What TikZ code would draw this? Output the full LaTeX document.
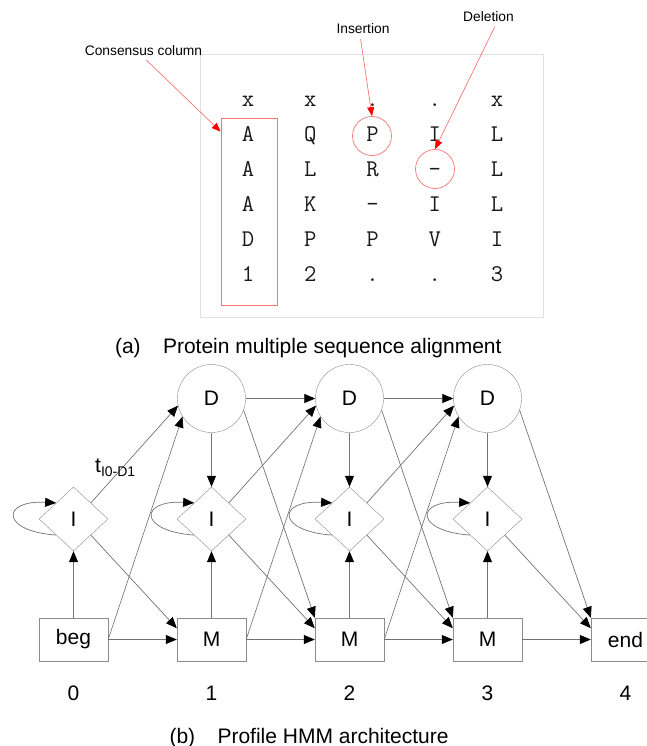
\documentclass[tikz,border=0pt]{standalone}
\usepackage{fontspec}
\setmainfont{Liberation Sans}
\usetikzlibrary{shapes.geometric,arrows.meta}

\tikzset{
  seq/.style={font=\ttfamily\fontsize{24}{24}\selectfont, text=black!90, inner sep=0pt, anchor=base},
  note/.style={font=\fontsize{13.8}{14}\selectfont, inner sep=1pt},
  redline/.style={draw=red!55, line width=0.7pt},
  redarrow/.style={redline, -{Triangle[length=9pt,width=7pt,color=red]}},
  big/.style={font=\fontsize{21}{21}\selectfont},
  dstate/.style={big, circle, draw=black!45, minimum size=68pt, inner sep=0pt},
  istate/.style={big, diamond, draw=black!45, minimum width=69pt, minimum height=64pt, inner sep=0pt},
  mstate/.style={big, rectangle, draw=black!45, minimum width=69pt, minimum height=43pt, inner sep=0pt},
  trans/.style={draw=black!55, line width=0.7pt, -{Triangle[length=11pt,width=9pt,color=black]}}
}

\begin{document}
\begin{tikzpicture}[x=1pt,y=-1pt]
	\useasboundingbox (0,0) rectangle (647,746);

	% alignment
	\node[draw=black!12, minimum width=343pt, minimum height=263pt] (msa) at (371.5,185.5) {};
	\foreach \row [count=\r] in {{x,x,.,.,x},{A,Q,P,I,L},{A,L,R,-,L},{A,K,-,I,L},{D,P,P,V,I},{1,2,.,.,3}}
		\foreach \ch [count=\c] in \row
			\node[seq] (s\r\c) at ({248+62.25*(\c-1)},{106.5+34.9*(\r-1)}) {\ch};

	\node[redline, minimum width=56pt, minimum height=187pt] (cons) at (249,211.5) {};
	\node[redline, circle, minimum size=39pt] (insc) at (372,136) {};
	\node[redline, circle, minimum size=39pt] (delc) at (435,169) {};

	\node[note] (conslab) at (143.5,51) {Consensus column};
	\node[note] (inslab) at (363,29) {Insertion};
	\node[note] (dellab) at (488.5,17) {Deletion};
	\draw[redarrow, shorten <=4pt] (conslab.south) -- ([yshift=-14pt]cons.north west);
	\draw[redarrow, shorten <=4pt] ([xshift=-3pt]inslab.south) -- (insc.north);
	\draw[redarrow, shorten <=4pt] ([xshift=8pt]dellab.south) -- (delc.north);

	\node[big, anchor=base west] (capa) at (111.5,353) {\makebox[48pt][l]{(a)}Protein multiple sequence alignment};

	% profile HMM
	\node[dstate] (D1) at (211.5,398.5) {D};
	\node[dstate] (D2) at (349.5,398.5) {D};
	\node[dstate] (D3) at (487.5,398.5) {D};

	\node[istate] (I0) at (73.5,519) {I};
	\node[istate] (I1) at (211.5,519) {I};
	\node[istate] (I2) at (349.5,519) {I};
	\node[istate] (I3) at (487.5,519) {I};

	\node[mstate] (beg) at (73.5,639.5) {beg};
	\node[mstate] (M1) at (211.5,639.5) {M};
	\node[mstate] (M2) at (349.5,639.5) {M};
	\node[mstate] (M3) at (487.5,639.5) {M};
	\node[mstate] (end) at (625.5,639.5) {end};

	\node[big, anchor=base] (n0) at (73.5,700) {0};
	\node[big, anchor=base] (n1) at (211.5,700) {1};
	\node[big, anchor=base] (n2) at (349.5,700) {2};
	\node[big, anchor=base] (n3) at (487.5,700) {3};
	\node[big, anchor=base] (n4) at (625.5,700) {4};

	\node[big, anchor=base west] (capb) at (166,743) {\makebox[48pt][l]{(b)}Profile HMM architecture};

	% delete states
	\draw[trans] (D1) -- (D2);
	\draw[trans] (D2) -- (D3);
	\draw[trans] (D1) -- (I1);
	\draw[trans] (D2) -- (I2);
	\draw[trans] (D3) -- (I3);
	\draw[trans] (D1.340) -- (M2.north west);
	\draw[trans] (D2.340) -- (M3.north west);
	\draw[trans] (D3.340) -- (end.north west);

	% insert states
	\draw[trans] (I0.south west) .. controls +(-56,-4) and +(-55,-3) .. (I0.north west);
	\draw[trans] (I1.south west) .. controls +(-56,-4) and +(-55,-3) .. (I1.north west);
	\draw[trans] (I2.south west) .. controls +(-56,-4) and +(-55,-3) .. (I2.north west);
	\draw[trans] (I3.south west) .. controls +(-56,-4) and +(-55,-3) .. (I3.north west);
	\draw[trans] (I0.north east) -- (D1.192);
	\draw[trans] (I1.north east) -- (D2.192);
	\draw[trans] (I2.north east) -- (D3.192);
	\draw[trans] (I0.south east) -- (M1.162);
	\draw[trans] (I1.south east) -- (M2.162);
	\draw[trans] (I2.south east) -- (M3.162);
	\draw[trans] (I3.south east) -- (end.162);
	\node[anchor=base west, inner sep=0pt] (tlab) at (95,472) {\fontsize{21}{21}\selectfont t\raisebox{-4pt}{\fontsize{14}{14}\selectfont I0-D1}};

	% match states
	\draw[trans] (beg) -- (I0);
	\draw[trans] (M1) -- (I1);
	\draw[trans] (M2) -- (I2);
	\draw[trans] (M3) -- (I3);
	\draw[trans] (beg.east) -- (D1.212);
	\draw[trans] (M1.east) -- (D2.212);
	\draw[trans] (M2.east) -- (D3.212);
	\draw[trans] (beg) -- (M1);
	\draw[trans] (M1) -- (M2);
	\draw[trans] (M2) -- (M3);
	\draw[trans] (M3) -- (end);
\end{tikzpicture}
\end{document}
